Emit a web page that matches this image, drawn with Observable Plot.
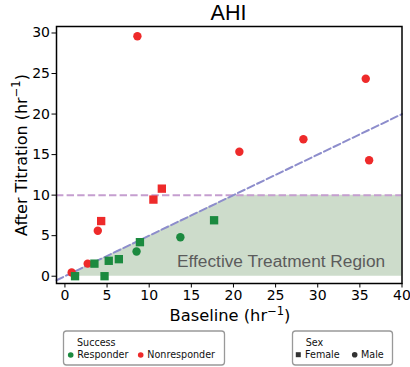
<!DOCTYPE html>
<html><head><meta charset="utf-8">
<script src="https://cdn.jsdelivr.net/npm/d3@7"></script>
<script src="https://cdn.jsdelivr.net/npm/@observablehq/plot@0.6"></script>
<style>body{margin:0;background:#fff}</style>
</head><body><div id="chart"></div>
<script>
// Data
const baseline = [0.8, 2.7, 3.9, 8.6, 20.7, 28.3, 35.7, 36.1, 4.3, 10.5, 11.5, 1.2, 3.5, 4.7, 5.2, 6.4, 8.9, 17.7, 8.5, 13.7];
const afterTitration = [0.45, 1.55, 5.6, 29.6, 15.35, 16.9, 24.35, 14.3, 6.8, 9.45, 10.8, 0, 1.55, 0, 1.9, 2.1, 4.2, 6.9, 3.05, 4.8];
const success = ["Nonresponder","Nonresponder","Nonresponder","Nonresponder","Nonresponder","Nonresponder","Nonresponder","Nonresponder",
  "Nonresponder","Nonresponder","Nonresponder",
  "Responder","Responder","Responder","Responder","Responder","Responder","Responder",
  "Responder","Responder"];
const sex = ["Male","Male","Male","Male","Male","Male","Male","Male",
  "Female","Female","Female",
  "Female","Female","Female","Female","Female","Female","Female",
  "Male","Male"];
const successCategories = ["Responder", "Nonresponder"];
const successColors = ["#1b8a3f", "#ee2a2a"];
const sexCategories = ["Female", "Male"];
const xTicks = [0, 5, 10, 15, 20, 25, 30, 35, 40];
const yTicks = [0, 5, 10, 15, 20, 25, 30];
const threshold = 10;   // AHI after titration cutoff
const ratio = 0.5;      // 50% reduction line
const regionX = [0, 20, 40];
const lineX = [-1, 40];
const regionLabel = "Effective Treatment Region";

const data = baseline.map((b, i) => ({baseline: b, after: afterTitration[i], success: success[i], sex: sex[i]}));
const region = regionX.map(x => ({x, y: Math.min(x * ratio, threshold)}));
const diag = lineX.map(x => ({x, y: x * ratio}));

const plot = Plot.plot({
  width: 410, height: 367,
  marginLeft: 56, marginRight: 8.5, marginTop: 26, marginBottom: 84,
  style: {fontFamily: "DejaVu Sans", background: "white", overflow: "visible", color: "black"},
  x: {domain: [-1, 40]},
  y: {domain: [-0.9, 30.8]},
  color: {domain: successCategories, range: successColors},
  marks: [
    Plot.areaY(region, {x: "x", y: "y", fill: "#cddccb"}),
    Plot.text([regionLabel], {x: 38, y: 1.15, text: d => d, textAnchor: "end", lineAnchor: "bottom",
      fontSize: 17.3, fontFamily: "Liberation Sans", fill: "#5b5b5b"}),
    Plot.ruleY([threshold], {stroke: "#c59ed0", strokeWidth: 2, strokeDasharray: "7.4,3.2"}),
    Plot.line(diag, {x: "x", y: "y", stroke: "#8d8dcc", strokeWidth: 2, strokeDasharray: "7.4,3.2"}),
    Plot.dot(data.filter(d => d.sex === "Male"), {x: "baseline", y: "after", r: 4.2, fill: "success"}),
    Plot.dot(data.filter(d => d.sex === "Female"), {x: "baseline", y: "after", symbol: "square", r: 4.7, fill: "success"}),
    Plot.axisX({ticks: xTicks, tickSize: 4.5, tickPadding: 2, fontSize: 14, label: null, tickFormat: d => d}),
    Plot.axisY({ticks: yTicks, tickSize: 4.5, tickPadding: 2, fontSize: 14, label: null, tickFormat: d => d}),
    Plot.frame({stroke: "black", strokeWidth: 1.5})
  ]
});

const svg = d3.select(plot);
svg.append("text").attr("x", 228.5).attr("y", 19.5).attr("text-anchor", "middle")
  .attr("font-family", "Liberation Sans").attr("font-size", 21.5).attr("fill", "black").text("AHI");

function supLabel(sel, main) {
  sel.append("tspan").text(main + " (hr");
  sel.append("tspan").attr("dy", -6.5).attr("font-size", 11.5).text("\u22121");
  sel.append("tspan").attr("dy", 6.5).text(")");
}
const xl = svg.append("text").attr("x", 230).attr("y", 321).attr("text-anchor", "middle")
  .attr("font-family", "DejaVu Sans").attr("font-size", 16.3).attr("fill", "black");
supLabel(xl, "Baseline");
const yl = svg.append("text").attr("transform", "translate(26.5,155) rotate(-90)").attr("text-anchor", "middle")
  .attr("font-family", "DejaVu Sans").attr("font-size", 16).attr("fill", "black");
supLabel(yl, "After Titration");

// Legends
const lg = svg.append("g").attr("font-family", "DejaVu Sans").attr("font-size", 9.6).attr("fill", "#111")
  .attr("text-anchor", "start");
lg.append("rect").attr("x", 63.5).attr("y", 331).attr("width", 161).attr("height", 34).attr("rx", 3)
  .attr("fill", "white").attr("stroke", "#999").attr("stroke-width", 1.3);
lg.append("text").attr("x", 77).attr("y", 346).attr("text-anchor", "start").text("Success");
const succX = [70.7, 140.7];
successCategories.forEach((c, i) => {
  lg.append("circle").attr("cx", succX[i]).attr("cy", 355).attr("r", 2.8).attr("fill", successColors[i]);
  lg.append("text").attr("x", succX[i] + 6.6).attr("y", 358.3).attr("text-anchor", "start").text(c);
});
lg.append("rect").attr("x", 292.5).attr("y", 331).attr("width", 100).attr("height", 34).attr("rx", 3)
  .attr("fill", "white").attr("stroke", "#999").attr("stroke-width", 1.3);
lg.append("text").attr("x", 305.7).attr("y", 345.5).attr("text-anchor", "start").text("Sex");
lg.append("rect").attr("x", 295.8).attr("y", 352.2).attr("width", 5).attr("height", 5).attr("fill", "#333");
lg.append("text").attr("x", 305).attr("y", 358.3).attr("text-anchor", "start").text(sexCategories[0]);
lg.append("circle").attr("cx", 354.7).attr("cy", 354.7).attr("r", 2.8).attr("fill", "#333");
lg.append("text").attr("x", 361).attr("y", 358.3).attr("text-anchor", "start").text(sexCategories[1]);

document.getElementById("chart").appendChild(plot);
</script>
</body></html>
